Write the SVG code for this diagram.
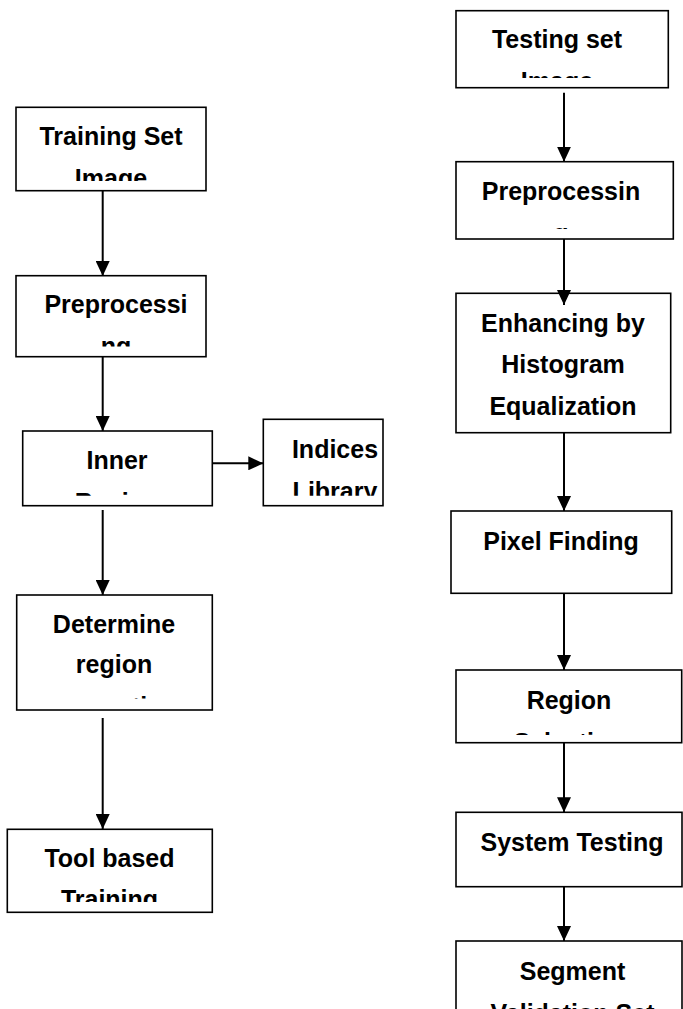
<svg xmlns="http://www.w3.org/2000/svg" width="683" height="1009" viewBox="0 0 683 1009">
<style>
.box{fill:#fff;stroke:#000;stroke-width:1.6}
.t{font-family:"Liberation Sans",Arial,sans-serif;font-weight:bold;font-size:25px;fill:#000;text-anchor:middle}
.c{fill:none;stroke:#000;stroke-width:2}
</style>
<defs>
<marker id="ah" markerUnits="userSpaceOnUse" markerWidth="15" markerHeight="14" refX="15" refY="7" orient="auto">
<path d="M0,0 L15,7 L0,14 z" fill="#000"/>
</marker>
<clipPath id="k1"><rect x="16" y="107" width="190" height="74"/></clipPath>
<clipPath id="k2"><rect x="16" y="276" width="190" height="70.5"/></clipPath>
<clipPath id="k3"><rect x="22" y="431" width="190" height="64.7"/></clipPath>
<clipPath id="k4"><rect x="263" y="419" width="120" height="76.7"/></clipPath>
<clipPath id="k5"><rect x="16" y="595" width="196" height="103.5"/></clipPath>
<clipPath id="k6"><rect x="7" y="829" width="205" height="73"/></clipPath>
<clipPath id="k7"><rect x="456" y="10" width="212" height="68"/></clipPath>
<clipPath id="k8"><rect x="456" y="161" width="217" height="68"/></clipPath>
<clipPath id="k9"><rect x="456" y="670" width="225" height="65"/></clipPath>
</defs>
<rect width="683" height="1009" fill="#fff"/>

<g id="training-set-image">
<rect class="box" x="16" y="107.3" width="190" height="83.4"/>
<g clip-path="url(#k1)"><text class="t" x="111" y="145">Training Set</text><text class="t" x="111" y="187">Image</text></g>
</g>
<g id="preprocessing-left">
<rect class="box" x="16" y="275.7" width="190" height="81"/>
<g clip-path="url(#k2)"><text class="t" x="116" y="313">Preprocessi</text><text class="t" x="116" y="355">ng</text></g>
</g>
<g id="inner-region">
<rect class="box" x="22.7" y="431" width="189.6" height="74.7"/>
<g clip-path="url(#k3)"><text class="t" x="117" y="469">Inner</text><text class="t" x="117" y="511">Region</text></g>
</g>
<g id="indices-library">
<rect class="box" x="263.3" y="419.3" width="119.7" height="86.4"/>
<g clip-path="url(#k4)"><text class="t" x="335" y="458">Indices</text><text class="t" x="335" y="500">Library</text></g>
</g>
<g id="determine-region">
<rect class="box" x="16.7" y="595" width="195.6" height="115"/>
<g clip-path="url(#k5)"><text class="t" x="114" y="632.7">Determine</text><text class="t" x="114" y="673.3">region</text><text class="t" x="114" y="715">growth</text></g>
</g>
<g id="tool-based-training">
<rect class="box" x="7.3" y="829.3" width="205" height="83"/>
<g clip-path="url(#k6)"><text class="t" x="109.5" y="867.3">Tool based</text><text class="t" x="109.5" y="908">Training</text></g>
</g>

<g id="testing-set-image">
<rect class="box" x="456" y="10.7" width="212.3" height="77"/>
<g clip-path="url(#k7)"><text class="t" x="557" y="48.3">Testing set</text><text class="t" x="557" y="90">Image</text></g>
</g>
<g id="preprocessing-right">
<rect class="box" x="456" y="161.7" width="217.3" height="77.3"/>
<g clip-path="url(#k8)"><text class="t" x="561" y="200">Preprocessin</text><text class="t" x="561" y="242">g</text></g>
</g>
<g id="enhancing">
<rect class="box" x="456" y="293.3" width="214.7" height="139.4"/>
<text class="t" x="563" y="331.7">Enhancing by</text>
<text class="t" x="563" y="373.3">Histogram</text>
<text class="t" x="563" y="415">Equalization</text>
</g>
<g id="pixel-finding">
<rect class="box" x="451" y="511" width="220.7" height="82.3"/>
<text class="t" x="561" y="550">Pixel Finding</text>
</g>
<g id="region-selection">
<rect class="box" x="456" y="670" width="225.7" height="72.7"/>
<g clip-path="url(#k9)"><text class="t" x="569" y="709.3">Region</text><text class="t" x="569" y="751">Selection</text></g>
</g>
<g id="system-testing">
<rect class="box" x="456" y="812.3" width="226" height="74.4"/>
<text class="t" x="572" y="850.7">System Testing</text>
</g>
<g id="segment">
<rect class="box" x="456" y="941" width="226" height="80"/>
<text class="t" x="572.5" y="980">Segment</text>
<text class="t" x="572.5" y="1022">Validation Set</text>
</g>

<g id="connectors">
<line class="c" x1="102.7" y1="190.7" x2="102.7" y2="276" marker-end="url(#ah)"/>
<line class="c" x1="102.7" y1="356.7" x2="102.7" y2="431" marker-end="url(#ah)"/>
<line class="c" x1="102.7" y1="510" x2="102.7" y2="595" marker-end="url(#ah)"/>
<line class="c" x1="102.7" y1="718" x2="102.7" y2="829" marker-end="url(#ah)"/>
<line class="c" x1="212.3" y1="463.3" x2="263.3" y2="463.3" marker-end="url(#ah)"/>
<line class="c" x1="564" y1="92.7" x2="564" y2="161.7" marker-end="url(#ah)"/>
<line class="c" x1="564" y1="239" x2="564" y2="305" marker-end="url(#ah)"/>
<line class="c" x1="564" y1="432.7" x2="564" y2="511" marker-end="url(#ah)"/>
<line class="c" x1="564" y1="593.3" x2="564" y2="670" marker-end="url(#ah)"/>
<line class="c" x1="564" y1="742.7" x2="564" y2="812.3" marker-end="url(#ah)"/>
<line class="c" x1="564" y1="886.7" x2="564" y2="941" marker-end="url(#ah)"/>
</g>
</svg>
